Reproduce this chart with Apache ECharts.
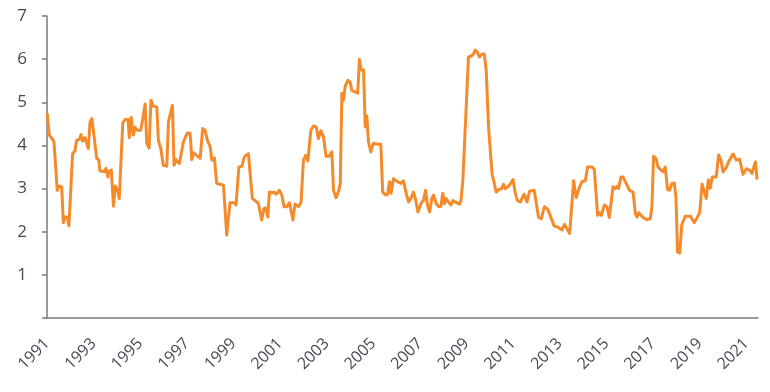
<!DOCTYPE html>
<html><head><meta charset="utf-8">
<script src="https://cdn.jsdelivr.net/npm/echarts@6/dist/echarts.min.js"></script>
<style>html,body{margin:0;padding:0;background:#fff}#c{width:770px;height:392px}</style>
</head><body><div id="c"></div>
<script>
const yearTicks = ['1991','1993','1995','1997','1999','2001','2003','2005','2007','2009','2011','2013','2015','2017','2019','2021'];
const dates = [
1991.01,1991.10,1991.24,1991.30,1991.44,1991.52,1991.63,1991.70,1991.77,1991.87,1991.94,
1992.10,1992.20,1992.27,1992.39,1992.46,1992.53,1992.63,1992.77,1992.85,1992.93,
1993.13,1993.22,1993.27,1993.46,1993.53,1993.61,1993.66,1993.76,1993.85,1993.93,
1994.03,1994.10,1994.25,1994.35,1994.48,1994.53,1994.61,1994.70,1994.78,1994.88,
1995.02,1995.11,1995.21,1995.28,1995.38,1995.46,1995.56,1995.71,1995.78,1995.88,
1995.99,1996.14,1996.21,1996.38,1996.45,1996.54,1996.68,1996.85,
1997.02,1997.14,1997.21,1997.28,1997.42,1997.57,1997.68,1997.78,1997.88,
1998.00,1998.07,1998.18,1998.28,1998.42,1998.57,1998.71,1998.85,
1999.03,1999.11,1999.23,1999.36,1999.47,1999.64,1999.81,1999.93,
2000.07,2000.21,2000.31,2000.40,2000.47,2000.54,2000.64,2000.74,2000.83,2000.97,
2001.07,2001.17,2001.29,2001.40,2001.55,2001.64,2001.79,2001.90,
2002.00,2002.10,2002.19,2002.32,2002.43,2002.55,2002.64,2002.75,2002.86,2002.97,
2003.10,2003.22,2003.29,2003.40,2003.52,2003.58,2003.65,2003.72,2003.79,2003.91,
2004.00,2004.08,2004.22,2004.33,2004.40,2004.48,2004.58,2004.65,2004.72,2004.79,2004.89,
2005.00,2005.15,2005.32,2005.40,2005.52,2005.61,2005.69,2005.76,2005.86,2005.94,
2006.03,2006.18,2006.29,2006.41,2006.51,2006.61,2006.72,2006.82,2006.91,
2007.04,2007.15,2007.24,2007.32,2007.41,2007.51,2007.58,2007.70,2007.79,2007.90,2007.98,
2008.05,2008.12,2008.22,2008.33,2008.41,2008.51,2008.58,2008.70,2008.76,2008.84,2008.97,
2009.08,2009.20,2009.30,2009.37,2009.47,2009.55,2009.66,2009.76,2009.84,2009.94,
2010.09,2010.27,2010.40,2010.51,2010.58,2010.66,2010.77,2010.87,2010.99,
2011.09,2011.18,2011.30,2011.47,2011.59,2011.70,2011.90,
2012.09,2012.20,2012.34,2012.49,2012.76,2012.90,
2013.09,2013.20,2013.42,2013.59,2013.70,2013.85,2013.95,
2014.09,2014.19,2014.38,2014.48,2014.62,2014.70,2014.78,2014.91,
2015.02,2015.12,2015.28,2015.38,2015.45,2015.52,2015.62,2015.71,2015.88,2015.99,
2016.14,2016.24,2016.31,2016.38,2016.57,2016.74,2016.88,2016.95,
2017.02,2017.12,2017.21,2017.34,2017.43,2017.52,2017.62,2017.71,2017.81,2017.91,2017.98,
2018.05,2018.14,2018.23,2018.38,2018.60,2018.77,
2019.00,2019.10,2019.28,2019.37,2019.45,2019.54,2019.71,2019.81,2019.91,
2020.00,2020.14,2020.24,2020.43,2020.57,2020.71,2020.86,
2021.00,2021.14,2021.24,2021.39,2021.46
];
const rates = [
4.74,4.24,4.14,4.08,2.96,3.06,3.04,2.21,2.34,2.34,2.14,
3.81,3.87,4.12,4.14,4.25,4.10,4.18,3.93,4.55,4.62,
3.70,3.67,3.41,3.39,3.47,3.27,3.40,3.43,2.59,3.06,
2.96,2.77,4.52,4.60,4.60,4.18,4.65,4.24,4.42,4.35,
4.35,4.62,4.96,4.05,3.94,5.05,4.91,4.89,4.11,3.93,
3.54,3.52,4.55,4.93,3.54,3.67,3.58,4.08,
4.29,4.28,3.67,3.83,3.77,3.70,4.39,4.35,4.12,
3.97,3.66,3.71,3.12,3.10,3.08,1.92,2.67,
2.67,2.62,3.50,3.52,3.74,3.81,2.77,2.72,
2.65,2.27,2.54,2.55,2.34,2.92,2.90,2.92,2.87,2.96,
2.85,2.58,2.58,2.67,2.27,2.64,2.58,2.69,
3.66,3.77,3.64,4.35,4.45,4.43,4.16,4.34,4.20,3.75,
3.75,3.85,2.96,2.79,2.96,3.12,5.21,5.05,5.37,5.51,
5.47,5.27,5.24,5.21,5.99,5.75,5.75,4.43,4.68,4.08,3.85,
4.05,4.03,4.03,2.92,2.85,2.86,3.16,2.89,3.23,3.27,
3.16,3.12,3.18,2.89,2.69,2.77,2.92,2.73,2.46,
2.65,2.73,2.96,2.62,2.46,2.77,2.85,2.65,2.58,2.59,2.89,
2.65,2.77,2.69,2.62,2.72,2.69,2.72,2.64,2.73,3.20,4.74,
6.05,6.07,6.13,6.21,6.15,6.05,6.12,6.12,5.75,4.43,
3.35,2.92,2.98,3.00,3.10,3.00,3.04,3.10,3.21,
2.89,2.72,2.69,2.87,2.69,2.94,2.96,
2.33,2.30,2.58,2.51,2.13,2.11,
2.04,2.17,1.96,3.18,2.79,3.04,3.16,
3.18,3.50,3.50,3.44,2.38,2.44,2.38,2.62,
2.58,2.33,3.04,3.00,3.05,3.00,3.27,3.27,3.08,2.96,
2.92,2.42,2.34,2.44,2.33,2.28,2.30,2.58,
3.75,3.70,3.50,3.43,3.39,3.50,2.98,2.96,3.12,3.13,2.81,
1.53,1.51,2.16,2.36,2.36,2.21,
2.44,3.10,2.77,3.20,3.01,3.27,3.27,3.78,3.66,
3.39,3.49,3.62,3.80,3.66,3.68,3.33,
3.46,3.43,3.35,3.62,3.21
];
const startYear = 1991;
const chart = echarts.init(document.getElementById('c'), null, {renderer: 'canvas'});
const seriesData = dates.map((d, i) => [d - startYear, rates[i]]);
const font = '"Open Sans", sans-serif';
chart.setOption({
  animation: false,
  backgroundColor: '#ffffff',
  grid: {left: 47, right: 12, top: 16, bottom: 74, containLabel: false},
  xAxis: {
    type: 'value', min: 0, max: 30.5, interval: 2,
    splitLine: {show: false},
    axisTick: {show: false},
    axisLine: {show: true, lineStyle: {color: '#7a7a7a', width: 1.5}},
    axisLabel: {
      rotate: 45, margin: 23, color: '#454a56', fontSize: 16, fontFamily: font,
      showMaxLabel: false,
      formatter: v => { const k = Math.round(v); return (Math.abs(v - k) < 1e-6 && k % 2 === 0) ? yearTicks[k / 2] : ''; }
    }
  },
  yAxis: {
    type: 'value', min: 0, max: 7, interval: 1,
    splitLine: {show: false},
    axisLine: {show: true, lineStyle: {color: '#7a7a7a', width: 1.5}},
    axisTick: {show: true, length: 5, lineStyle: {color: '#7a7a7a', width: 1.5}},
    axisLabel: {margin: 20, color: '#454a56', fontSize: 17, fontFamily: font,
      formatter: v => v === 0 ? '' : String(v)}
  },
  series: [{
    type: 'line', data: seriesData, showSymbol: false, smooth: false,
    lineStyle: {color: '#f58a2b', width: 3, join: 'round'}
  }]
});
</script></body></html>
